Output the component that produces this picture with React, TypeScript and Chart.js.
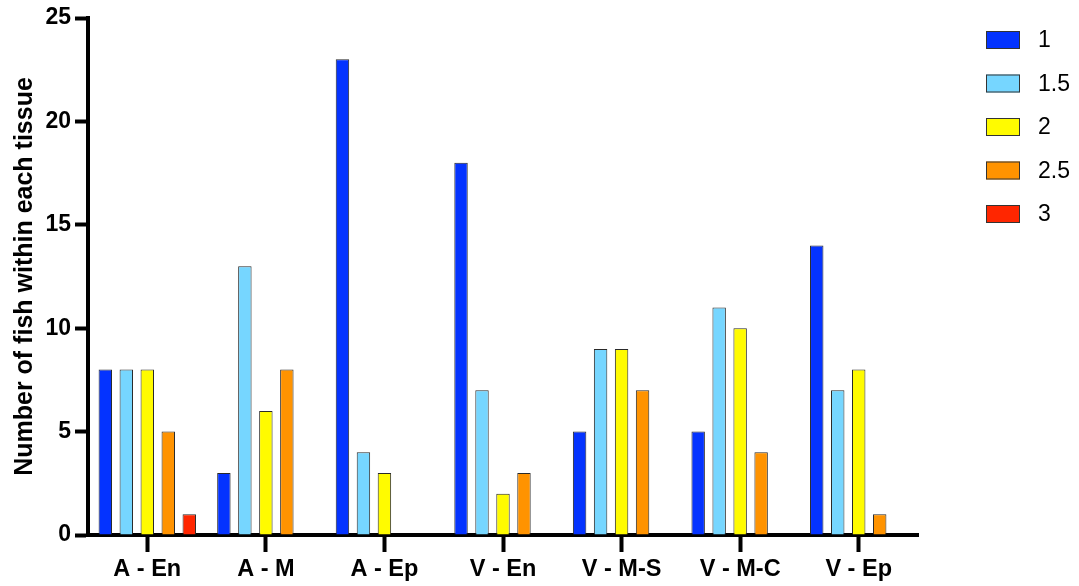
import React, { useEffect, useRef } from "react";
import { Chart, registerables } from "chart.js";

Chart.register(...registerables);

// Tissue groups along the x axis
const categories = ["A - En", "A - M", "A - Ep", "V - En", "V - M-S", "V - M-C", "V - Ep"];

// Score series (legend labels) and number of fish per tissue for each score
const seriesLabels = ["1", "1.5", "2", "2.5", "3"];
const score1 = [8, 3, 23, 18, 5, 5, 14];
const score15 = [8, 13, 4, 7, 9, 11, 7];
const score2 = [8, 6, 3, 2, 9, 10, 8];
const score25 = [5, 8, 0, 3, 7, 4, 1];
const score3 = [1, 0, 0, 0, 0, 0, 0];
const seriesValues = [score1, score15, score2, score25, score3];
const seriesColors = ["#0433FF", "#76D6FF", "#FFFB00", "#FF9300", "#FF2600"];

// Value axis
const yMin = 0;
const yMax = 25;
const yStep = 5;
const yTitle = "Number of fish within each tissue";

const FONT = "'Liberation Sans', Arial, Helvetica, sans-serif";
const W = 1079;
const H = 586;

// Legend drawn to the right of the plot, one row per score
const sideLegend = {
  id: "sideLegend",
  afterDraw(chart: any) {
    const ctx = chart.ctx as CanvasRenderingContext2D;
    const boxX = 986;
    const boxW = 34;
    const boxH = 18;
    const firstY = 40;
    const rowStep = 43.5;
    const textX = 1038;
    ctx.save();
    ctx.font = `23px ${FONT}`;
    ctx.textBaseline = "middle";
    ctx.textAlign = "left";
    chart.data.datasets.forEach((ds: any, i: number) => {
      const cy = firstY + i * rowStep;
      ctx.fillStyle = ds.backgroundColor;
      ctx.fillRect(boxX, cy - boxH / 2, boxW, boxH);
      ctx.strokeStyle = "#333";
      ctx.lineWidth = 1;
      ctx.strokeRect(boxX + 0.5, cy - boxH / 2 + 0.5, boxW - 1, boxH - 1);
      ctx.fillStyle = "#000";
      ctx.fillText(String(ds.label), textX, cy + 1);
    });
    ctx.restore();
  },
};

export default function App() {
  const canvasRef = useRef<HTMLCanvasElement | null>(null);

  useEffect(() => {
    const canvas = canvasRef.current;
    if (!canvas) return;

    const chart = new Chart(canvas, {
      type: "bar",
      data: {
        labels: categories,
        datasets: seriesLabels.map((label, i) => ({
          label,
          data: seriesValues[i],
          backgroundColor: seriesColors[i],
          borderColor: "#2a2a2a",
          borderWidth: 1,
          categoryPercentage: 0.885,
          barPercentage: 0.64,
        })),
      },
      options: {
        responsive: false,
        animation: false,
        devicePixelRatio: 1,
        layout: { padding: { top: 18, right: W - 918, bottom: 0, left: 0 } },
        plugins: {
          legend: { display: false },
          tooltip: { enabled: false },
        },
        scales: {
          x: {
            type: "category",
            offset: true,
            border: { display: true, color: "#000", width: 4 },
            grid: {
              display: true,
              offset: false,
              drawOnChartArea: false,
              drawTicks: true,
              tickLength: 17,
              tickWidth: 4,
              tickColor: "#000",
            },
            ticks: {
              color: "#000",
              padding: 3,
              maxRotation: 0,
              autoSkip: false,
              font: { family: FONT, size: 23.5, weight: "bold" },
            },
            afterFit(scale: any) {
              scale.height = H - 535;
            },
          },
          y: {
            min: yMin,
            max: yMax,
            border: { display: true, color: "#000", width: 4 },
            grid: {
              display: true,
              drawOnChartArea: false,
              drawTicks: true,
              tickLength: 13,
              tickWidth: 4,
              tickColor: "#000",
            },
            ticks: {
              stepSize: yStep,
              color: "#000",
              padding: 4,
              font: { family: FONT, size: 23, weight: "bold" },
            },
            title: {
              display: true,
              text: yTitle,
              color: "#000",
              padding: { top: 10, bottom: 0 },
              font: { family: FONT, size: 25, weight: "bold" },
            },
            afterFit(scale: any) {
              scale.width = 88;
            },
          },
        },
      },
      plugins: [sideLegend],
    });

    return () => chart.destroy();
  }, []);

  return (
    <div
      style={{
        position: "fixed",
        left: 0,
        top: 0,
        width: W,
        height: H,
        background: "#fff",
      }}
    >
      <canvas ref={canvasRef} width={W} height={H} style={{ display: "block" }} />
    </div>
  );
}
